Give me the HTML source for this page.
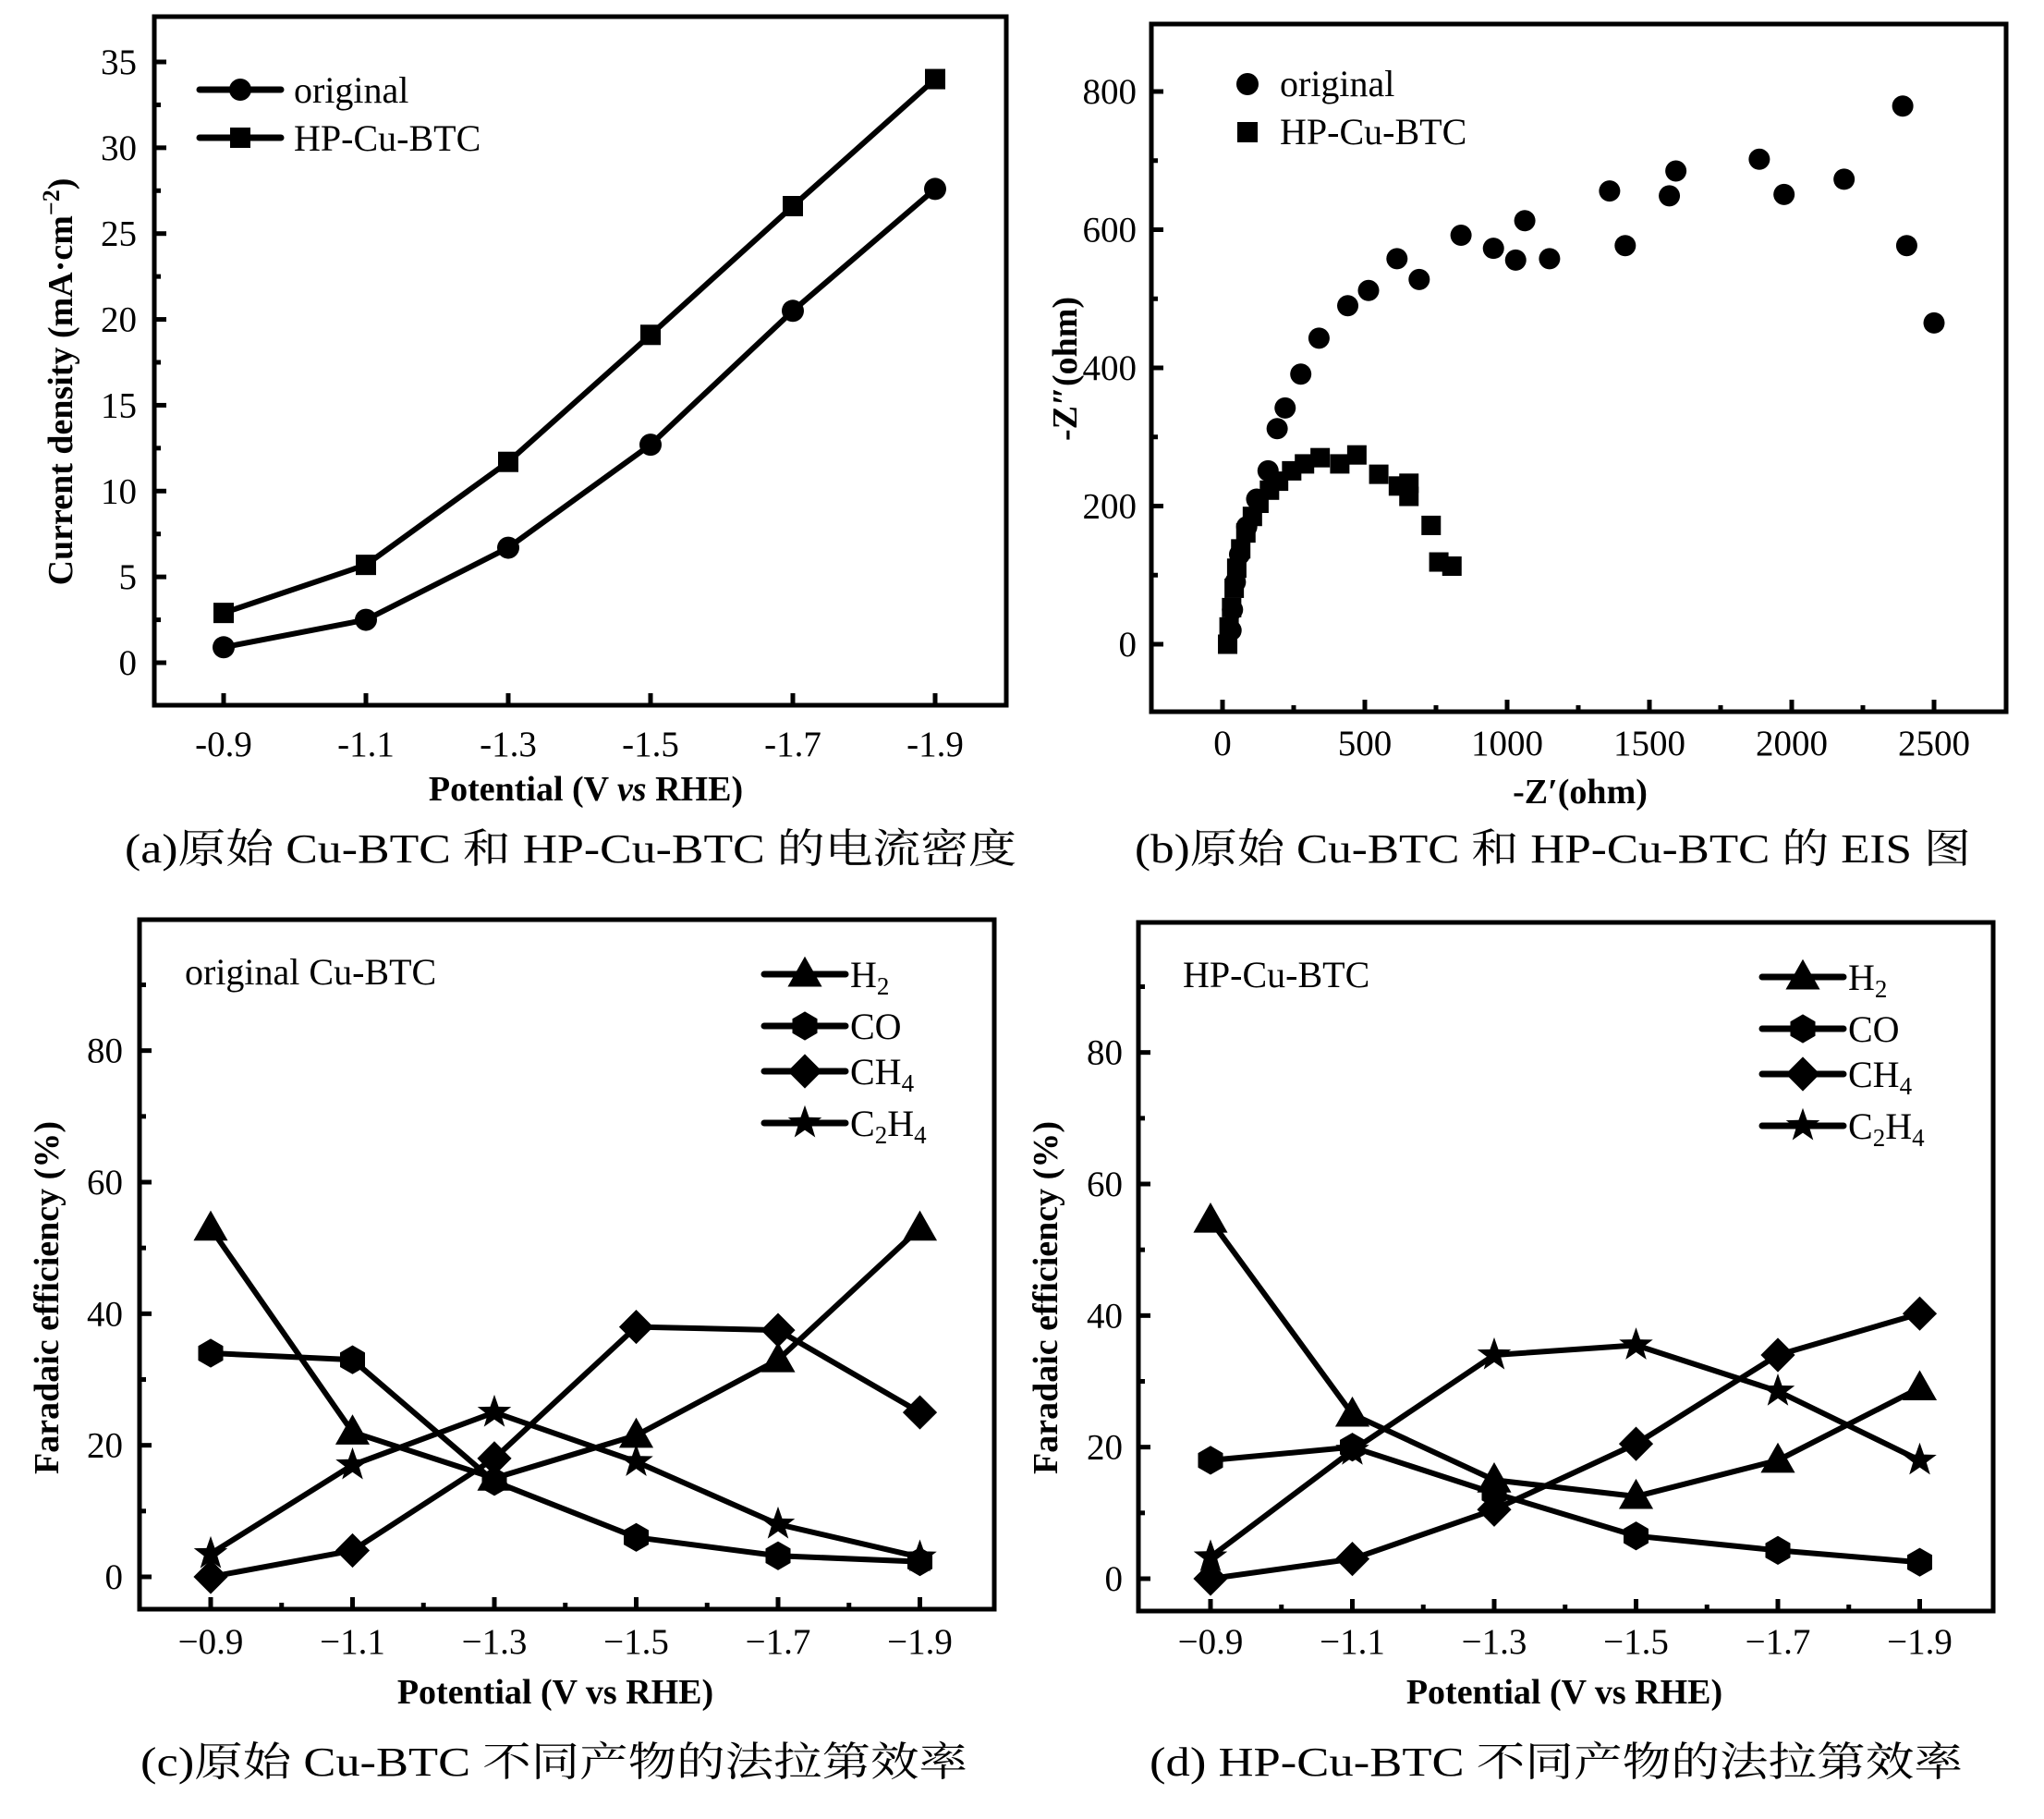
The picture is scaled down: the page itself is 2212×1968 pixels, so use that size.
<!DOCTYPE html>
<html><head><meta charset="utf-8"><style>
html,body{margin:0;padding:0;background:#fff;}
svg{display:block;font-family:"Liberation Serif","Noto Serif CJK SC",serif;}
</style></head><body>
<svg id="fig" width="2212" height="1968" viewBox="0 0 2212 1968" xmlns="http://www.w3.org/2000/svg">
<rect x="0" y="0" width="2212" height="1968" fill="#fff"/>
<g id="root"></g>
</svg>
<script>
// ---- data ----
const potentials = [-0.9,-1.1,-1.3,-1.5,-1.7,-1.9];
const potLabelsA = ["-0.9","-1.1","-1.3","-1.5","-1.7","-1.9"];
const potLabelsCD = ["\u22120.9","\u22121.1","\u22121.3","\u22121.5","\u22121.7","\u22121.9"];
const jOriginal = [0.9,2.5,6.7,12.7,20.5,27.6];
const jHP = [2.9,5.7,11.7,19.1,26.6,34.0];
const jTicks = [0,5,10,15,20,25,30,35];
const eisOrigX = [30,35,45,60,85,120,160,192,220,275,339,440,513,613,691,838,952,1030,1062,1149,1360,1415,1570,1593,1886,1973,2184,2390,2404,2500];
const eisOrigY = [20,50,90,130,170,210,251,312,342,391,443,490,512,558,528,592,573,556,613,558,656,577,649,685,702,651,673,779,577,465];
const eisHPX = [18,23,32,41,50,64,82,105,128,165,197,243,288,343,412,472,549,618,655,655,733,760,806];
const eisHPY = [0,25,53,81,110,138,161,185,204,223,236,251,261,270,261,274,246,229,233,214,172,119,113];
const eisXTicks = [0,500,1000,1500,2000,2500];
const eisYTicks = [0,200,400,600,800];
const feTicks = [0,20,40,60,80];
const cH2 = [53,22,15,21.5,33,53];
const cCO = [34,33,14.5,6,3.2,2.3];
const cCH4 = [0,4,18,38,37.5,25];
const cC2H4 = [3.5,17,25,17.5,8,3];
const dH2 = [54.5,25,15,12.5,18,29];
const dCO = [18,20,13,6.5,4.3,2.5];
const dCH4 = [0,3,10.5,20.5,34,40.3];
const dC2H4 = [3.3,19.5,34,35.5,28.5,18];

const NS="http://www.w3.org/2000/svg";
const root=document.getElementById('root');
function mk(tag,attrs,parent,text){const e=document.createElementNS(NS,tag);for(const k in attrs)e.setAttribute(k,attrs[k]);if(text!==undefined)e.textContent=text;(parent||root).appendChild(e);return e;}
function lin(d0,d1,p0,p1){return v=>p0+(v-d0)*(p1-p0)/(d1-d0);}

function marker(g,type,x,y,s){
  let e;
  if(type==='circle'){e=mk('circle',{cx:x,cy:y,r:s/2,fill:'#000'},g);}
  else if(type==='square'){e=mk('rect',{x:x-s/2,y:y-s/2,width:s,height:s,fill:'#000'},g);}
  else if(type==='triangle'){e=mk('polygon',{points:`${x},${y-s*0.6} ${x+s*0.58},${y+s*0.42} ${x-s*0.58},${y+s*0.42}`,fill:'#000'},g);}
  else if(type==='hexagon'){let p=[];for(let i=0;i<6;i++){const a=Math.PI/2+i*Math.PI/3;p.push((x+s*0.52*Math.cos(a))+','+(y+s*0.52*Math.sin(a)));}e=mk('polygon',{points:p.join(' '),fill:'#000'},g);}
  else if(type==='diamond'){const r=s*0.62;e=mk('polygon',{points:`${x},${y-r} ${x+r},${y} ${x},${y+r} ${x-r},${y}`,fill:'#000'},g);}
  else if(type==='star'){let p=[];for(let i=0;i<10;i++){const a=-Math.PI/2+i*Math.PI/5;const r=i%2?s*0.24:s*0.6;p.push((x+r*Math.cos(a))+','+(y+r*Math.sin(a)));}e=mk('polygon',{points:p.join(' '),fill:'#000'},g);}
  
  
  return e;
}

function frame(g,L,T,R,B){
  const r=mk('rect',{x:L,y:T,width:R-L,height:B-T,fill:'none',stroke:'#000','stroke-width':5},g);
  
  
}
function xTicks(g,vals,labels,sx,B,ly,minorVals){
  vals.forEach((v,i)=>{
    mk('line',{x1:sx(v),y1:B,x2:sx(v),y2:B-13,stroke:'#000','stroke-width':5},g);
    const t=mk('text',{x:sx(v),y:ly,'text-anchor':'middle','font-size':39},g,labels[i]);
    
    
  });
  (minorVals||[]).forEach(v=>mk('line',{x1:sx(v),y1:B,x2:sx(v),y2:B-7,stroke:'#000','stroke-width':5},g));
}
function yTicks(g,vals,sy,L,lx,minorVals){
  vals.forEach(v=>{
    mk('line',{x1:L,y1:sy(v),x2:L+13,y2:sy(v),stroke:'#000','stroke-width':5},g);
    const t=mk('text',{x:lx,y:sy(v)+13,'text-anchor':'end','font-size':39},g,String(v));
    
    
  });
  (minorVals||[]).forEach(v=>mk('line',{x1:L,y1:sy(v),x2:L+7,y2:sy(v),stroke:'#000','stroke-width':5},g));
}
function series(g,xs,ys,sx,sy,type,s,name,line){
  const sg=mk('g',{},g);
  
  
  if(line){
    const pts=xs.map((x,i)=>sx(x)+','+sy(ys[i])).join(' ');
    mk('polyline',{points:pts,fill:'none',stroke:'#000','stroke-width':6,'stroke-linejoin':'round'},sg);
  }
  xs.forEach((x,i)=>marker(sg,type,sx(x),sy(ys[i]),s));
}
function caption(x,y,len,txt,name){
  const t=mk('text',{x:x,y:y,'font-size':44,textLength:len,lengthAdjust:'spacingAndGlyphs'},root,txt);
  
  
}
function ytitle(x,y,txt,name,g){
  const t=mk('text',{x:0,y:0,'font-size':38,'font-weight':'bold','text-anchor':'middle',transform:`translate(${x},${y}) rotate(-90)`},g);
  t.innerHTML=txt;
  
  
}
function xtitle(x,y,txt,name,g){
  const t=mk('text',{x:x,y:y,'font-size':38,'font-weight':'bold','text-anchor':'middle'},g);
  t.innerHTML=txt;
  
  
}
function legendLine(g,x1,x2,y,type,s,label,tx,name){
  const lg=mk('g',{},g);
  
  
  mk('line',{x1:x1,y1:y,x2:x2,y2:y,stroke:'#000','stroke-width':7,'stroke-linecap':'round'},lg);
  marker(lg,type,(x1+x2)/2,y,s);
  const t=mk('text',{x:tx,y:y+14,'font-size':40},lg);
  t.innerHTML=label;
}

// ---- panel a ----
(function(){
  const g=mk('g',{});
  
  
  const L=167,R=1089,T=18,B=763;
  const sx=lin(-0.9,-1.9,242,1012), sy=lin(0,35,717,67);
  frame(g,L,T,R,B);
  xTicks(g,potentials,potLabelsA,sx,B,818);
  yTicks(g,jTicks,sy,L,148,[2.5,7.5,12.5,17.5,22.5,27.5,32.5]);
  series(g,potentials,jOriginal,sx,sy,'circle',24,'series-original',true);
  series(g,potentials,jHP,sx,sy,'square',22,'series-hp-cu-btc',true);
  legendLine(g,216,304,97,'circle',24,'original',318,'legend-original');
  legendLine(g,216,304,149,'square',22,'HP-Cu-BTC',318,'legend-hp-cu-btc');
  ytitle(78,413,'Current density (mA·cm<tspan baseline-shift="super" font-size="26">−2</tspan>)','y-axis-title-a',g);
  xtitle(634,866,'Potential (V <tspan font-style="italic">vs</tspan> RHE)','x-axis-title-a',g);
})();

// ---- panel b ----
(function(){
  const g=mk('g',{});
  
  
  const L=1246,R=2171,T=26,B=770;
  const sx=lin(0,500,1323,1477), sy=lin(0,800,697,99);
  frame(g,L,T,R,B);
  xTicks(g,eisXTicks,eisXTicks.map(String),sx,B,817,[250,750,1250,1750,2250]);
  yTicks(g,eisYTicks,sy,L,1230,[100,300,500,700]);
  series(g,eisOrigX,eisOrigY,sx,sy,'circle',23,'series-original',false);
  series(g,eisHPX,eisHPY,sx,sy,'square',21,'series-hp-cu-btc',false);
  marker(g,'circle',1350,91,24);
  const t1=mk('text',{x:1385,y:104,'font-size':40},g,'original');
  
  
  marker(g,'square',1350,143,22);
  const t2=mk('text',{x:1385,y:156,'font-size':40},g,'HP-Cu-BTC');
  
  
  ytitle(1165,399,'-Z″(ohm)','y-axis-title-b',g);
  xtitle(1710,869,'-Z′(ohm)','x-axis-title-b',g);
})();

// ---- panels c, d ----
function fePanel(name,L,R,T,B,x0,zeroY,H2,CO,CH4,C2H4,title,titleX,legX,legYs,ylx,xt){
  const g=mk('g',{});
  
  
  const sx=lin(-0.9,-1.1,x0,x0+153.5), sy=lin(0,60,zeroY,zeroY-427);
  frame(g,L,T,R,B);
  xTicks(g,potentials,potLabelsCD,sx,B,1789,[-1.0,-1.2,-1.4,-1.6,-1.8]);
  yTicks(g,feTicks,sy,L,ylx,[10,30,50,70,90]);
  series(g,potentials,H2,sx,sy,'triangle',32,'series-h2',true);
  series(g,potentials,CO,sx,sy,'hexagon',30,'series-co',true);
  series(g,potentials,CH4,sx,sy,'diamond',30,'series-ch4',true);
  series(g,potentials,C2H4,sx,sy,'star',32,'series-c2h4',true);
  const tt=mk('text',{x:titleX,y:legYs[0]+11,'font-size':40},g,title);
  
  
  const sub='baseline-shift="-30%" font-size="27"';
  legendLine(g,legX,legX+88,legYs[0],'triangle',32,`H<tspan ${sub}>2</tspan>`,legX+93,'legend-h2');
  legendLine(g,legX,legX+88,legYs[1],'hexagon',30,'CO',legX+93,'legend-co');
  legendLine(g,legX,legX+88,legYs[2],'diamond',30,`CH<tspan ${sub}>4</tspan>`,legX+93,'legend-ch4');
  legendLine(g,legX,legX+88,legYs[3],'star',32,`C<tspan ${sub}>2</tspan>H<tspan ${sub}>4</tspan>`,legX+93,'legend-c2h4');
  ytitle(L-88,1404,'Faradaic efficiency (%)','y-axis-title',g);
  xtitle(xt,1843,'Potential (V vs RHE)','x-axis-title',g);
}
fePanel('panel-c-fe-original',151,1076,995,1741,228,1706,cH2,cCO,cCH4,cC2H4,'original Cu-BTC',200,827,[1054,1110,1159,1215],133,601);
fePanel('panel-d-fe-hp',1232,2157,998,1743,1310,1708,dH2,dCO,dCH4,dC2H4,'HP-Cu-BTC',1280,1907,[1057,1113,1162,1218],1215,1693);

caption(135,933,965,'(a)原始 Cu-BTC 和 HP-Cu-BTC 的电流密度','caption-a');
caption(1228,933,905,'(b)原始 Cu-BTC 和 HP-Cu-BTC 的 EIS 图','caption-b');
caption(152,1921,895,'(c)原始 Cu-BTC 不同产物的法拉第效率','caption-c');
caption(1244,1921,880,'(d) HP-Cu-BTC 不同产物的法拉第效率','caption-d');
</script>
</body></html>
